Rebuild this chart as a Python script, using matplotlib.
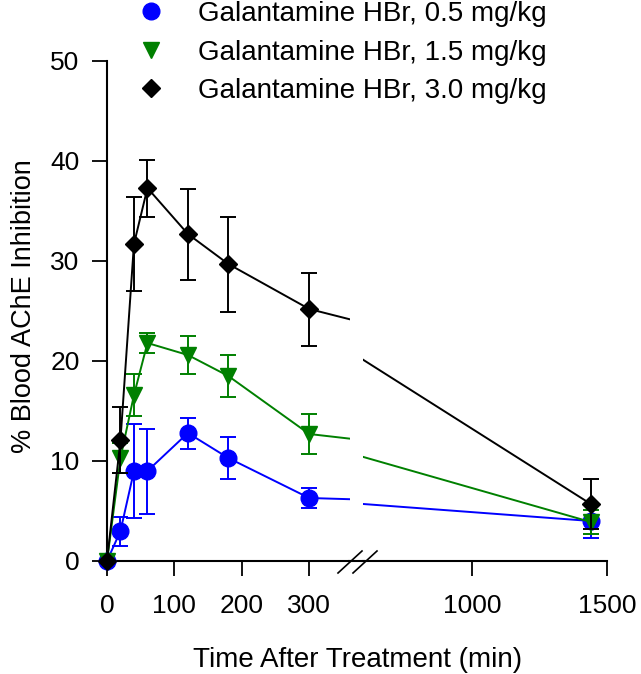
import numpy as np
import matplotlib
matplotlib.use("Agg")
import matplotlib.pyplot as plt
from matplotlib.lines import Line2D

plt.rcParams['font.family'] = ['Liberation Sans', 'DejaVu Sans']

# time after treatment (min)
time = np.array([0, 20, 40, 60, 120, 180, 300, 1440])

# % blood AChE inhibition, mean and error
dose05 = np.array([0, 3.0, 9.0, 9.0, 12.8, 10.3, 6.3, 4.0])
dose05_err = np.array([0, 1.45, 4.7, 4.25, 1.55, 2.1, 1.0, 1.7])
dose15 = np.array([0, 10.3, 16.6, 21.8, 20.6, 18.5, 12.7, 3.9])
dose15_err = np.array([0, 1.5, 2.1, 1.0, 1.9, 2.1, 2.0, 1.2])
dose30 = np.array([0, 12.1, 31.7, 37.3, 32.7, 29.7, 25.2, 5.7])
dose30_err = np.array([0, 3.3, 4.7, 2.85, 4.55, 4.75, 3.65, 2.5])

labels = ["Galantamine HBr, 0.5 mg/kg",
          "Galantamine HBr, 1.5 mg/kg",
          "Galantamine HBr, 3.0 mg/kg"]
colors = ["#0000ff", "#008000", "#000000"]
markers = ["o", "v", "D"]
msizes = [12, 11, 9.5]

W, H = 641, 674
fig = plt.figure(figsize=(W / 100, H / 100), dpi=100)

def fx(px):
    return px / W

def fy(py):
    return 1 - py / H

ax1 = fig.add_axes([fx(107), fy(561), (350 - 107) / W, 500 / H])
ax2 = fig.add_axes([fx(363), fy(561), (607 - 363) / W, 500 / H])

xlim1 = (0, 360.5)
xlim2 = (596.3, 1500)

series = [(dose05, dose05_err), (dose15, dose15_err), (dose30, dose30_err)]
for i, (y, e) in enumerate(series):
    for ax, (lo, hi) in ((ax1, xlim1), (ax2, xlim2)):
        ax.plot(time, y, color=colors[i], lw=1.4, zorder=3 + i)
        m = (time >= lo) & (time <= hi)
        cont = ax.errorbar(time[m], y[m], yerr=e[m], fmt=markers[i], color=colors[i],
                           ms=msizes[i], mec=colors[i], elinewidth=1.4, capsize=5.5,
                           capthick=1.4, zorder=3 + i)
        for art in cont.get_children():
            art.set_clip_on(False)

for ax, lim in ((ax1, xlim1), (ax2, xlim2)):
    ax.set_xlim(lim)
    ax.set_ylim(0, 50)
    ax.spines['top'].set_visible(False)
    ax.spines['right'].set_visible(False)
    ax.spines['bottom'].set_linewidth(1.5)
    ax.spines['left'].set_linewidth(1.5)
    ax.tick_params(direction='out', length=10.8, width=1.3, labelsize=19, pad=9)
    ax.tick_params(axis='x', pad=13)

ax1.set_xticks([0, 100, 200, 300])
ax1.set_yticks([0, 10, 20, 30, 40, 50])
ax2.set_xticks([1000, 1500])
ax2.spines['left'].set_visible(False)
ax2.tick_params(axis='y', left=False, labelleft=False)

# bottom axis across the break + break marks
fig.add_artist(Line2D([fx(349), fx(364)], [fy(561), fy(561)], color='black', lw=1.5))
fig.add_artist(Line2D([fx(338), fx(362)], [fy(573), fy(551)], color='black', lw=1.2))
fig.add_artist(Line2D([fx(353), fx(377)], [fy(573), fy(551)], color='black', lw=1.2))

fig.text(fx(358), fy(660), "Time After Treatment (min)", ha='center', va='center', fontsize=20)
fig.text(fx(24), fy(306), "% Blood AChE Inhibition", ha='center', va='center',
         rotation=90, fontsize=19.5)

handles = [Line2D([], [], ls='none', marker=markers[i], color=colors[i], ms=msizes[i])
           for i in range(3)]
fig.legend(handles, labels, loc='upper left', bbox_to_anchor=(fx(129), fy(1)),
           frameon=False, fontsize=20, handlelength=1.6, handletextpad=0.9,
           borderpad=0, borderaxespad=0, labelspacing=0.45)

fig.savefig("out.png", dpi=100)
